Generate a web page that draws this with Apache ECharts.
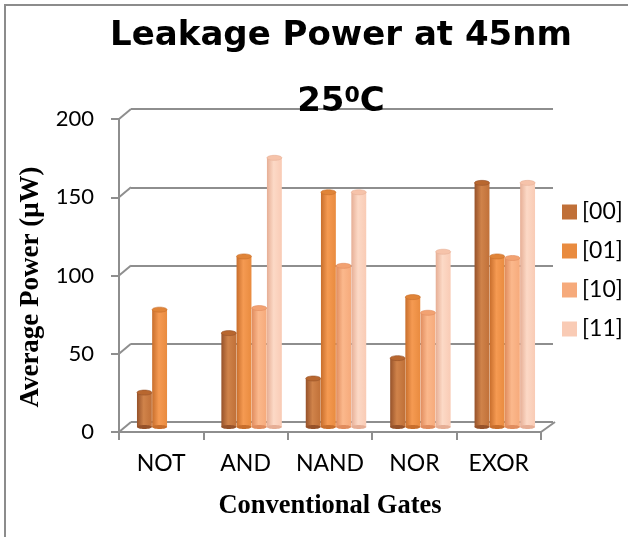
<!DOCTYPE html>
<html>
<head>
<meta charset="utf-8">
<script src="https://cdn.jsdelivr.net/npm/echarts@6/dist/echarts.min.js"></script>
<style>
html,body{margin:0;padding:0;background:#fff;}
#chart{width:628px;height:537px;}
</style>
</head>
<body>
<div id="chart"></div>
<script>
// ---- data ----
const categories = ['NOT', 'AND', 'NAND', 'NOR', 'EXOR'];
const seriesNames = ['[00]', '[01]', '[10]', '[11]'];
const s00 = [22, 60, 31, 44, 156];
const s01 = [75, 109, 150, 83, 109];
const s10 = [null, 76, 103, 73, 108];
const s11 = [null, 172, 150, 112, 156];
const yTicks = [0, 50, 100, 150, 200];
const titleLine1 = 'Leakage Power at 45nm';
const xTitle = 'Conventional Gates';
const yTitle = 'Average Power (\u03bcW)';

// ---- styles ----
const palettes = [
  { solid: '#c07038', dark: '#96522a', light: '#d0834a', top: '#b8672f' },
  { solid: '#e98b3f', dark: '#c86e2c', light: '#f59a52', top: '#e08438' },
  { solid: '#f6aa7b', dark: '#e08c5e', light: '#fbb88c', top: '#f2a272' },
  { solid: '#f9cbb5', dark: '#e6ae95', light: '#fcd9c6', top: '#f6c3aa' }
];
const gridColor = '#8e8e8e';
const DX = 12, DY = 10; // perspective offset of back wall

const allSeries = [s00, s01, s10, s11];

function barRender(idx) {
  return function (params, api) {
    const v = api.value(1);
    if (v == null || isNaN(v)) return;
    const cat = api.value(0);
    const top = api.coord([cat, v]);
    const base = api.coord([cat, 0]);
    const band = api.size([1, 0])[0];
    const w = band * 0.18;
    const cx = top[0] + (idx - 1.5) * w;
    const bw = w - 0.3;
    const p = palettes[idx];
    const grad = new echarts.graphic.LinearGradient(0, 0, 1, 0, [
      { offset: 0, color: p.dark },
      { offset: 0.45, color: p.light },
      { offset: 1, color: p.solid }
    ]);
    return {
      type: 'group',
      children: [
        { type: 'rect', shape: { x: cx - bw / 2, y: top[1], width: bw, height: base[1] - top[1] },
          style: { fill: grad } },
        { type: 'ellipse', shape: { cx: cx, cy: base[1], rx: bw / 2, ry: 2 }, style: { fill: p.dark } },
        { type: 'ellipse', shape: { cx: cx, cy: top[1], rx: bw / 2, ry: 2.5 },
          style: { fill: p.top, stroke: p.dark, lineWidth: 0.6 } }
      ]
    };
  };
}

const barSeries = allSeries.map((arr, idx) => ({
  name: seriesNames[idx],
  type: 'custom',
  xAxisIndex: 2, yAxisIndex: 2,
  itemStyle: { color: palettes[idx].solid },
  data: arr.map((v, i) => [i, v]).filter(d => d[1] != null),
  encode: { x: 0, y: 1 },
  renderItem: barRender(idx),
  z: 5
}));

const diagSeries = {
  type: 'custom',
  name: 'diag',
  silent: true,
  xAxisIndex: 0, yAxisIndex: 0,
  data: yTicks.map(v => [0, v]),
  encode: { x: 0, y: 1 },
  renderItem: function (params, api) {
    const cs = params.coordSys;
    const v = api.value(1);
    const p = api.coord([0, v]);
    const st = { stroke: gridColor, lineWidth: 2 };
    const children = [
      { type: 'line', shape: { x1: cs.x, y1: p[1], x2: cs.x + DX, y2: p[1] - DY }, style: st }
    ];
    if (v === 0) {
      children.push({ type: 'line', shape: { x1: cs.x + cs.width, y1: p[1], x2: cs.x + cs.width + DX + 2, y2: p[1] - DY }, style: st });
    }
    return { type: 'group', children: children };
  },
  z: 3
};

const FRONT = { left: 119, top: 119, width: 422, height: 313 };
const chart = echarts.init(document.getElementById('chart'));
chart.setOption({
  animation: false,
  backgroundColor: '#fff',
  title: {
    text: titleLine1 + '\n25{sup|0}C',
    left: 336,
    top: 0,
    padding: [3, 5, 5, 5],
    textAlign: 'center',
    textStyle: {
      fontFamily: 'DejaVu Sans',
      fontWeight: 'bold',
      fontSize: 34,
      lineHeight: 66,
      color: '#000',
      rich: {
        sup: { fontFamily: 'DejaVu Sans', fontWeight: 'bold', fontSize: 22, color: '#000', padding: [0, 0, 12, 0] }
      }
    }
  },
  legend: {
    data: seriesNames,
    orient: 'vertical',
    left: 557,
    top: 195,
    icon: 'rect',
    itemWidth: 15,
    itemHeight: 15,
    itemGap: 15,
    textStyle: { fontFamily: 'Lato', fontSize: 23, color: '#000', lineHeight: 24 }
  },
  graphic: [
    { type: 'rect', shape: { x: 5, y: 5, width: 700, height: 600 },
      style: { fill: 'none', stroke: '#8c8c8c', lineWidth: 2 }, silent: true },
    { type: 'text', x: 31, y: 287, rotation: Math.PI / 2,
      style: { text: yTitle, align: 'center', verticalAlign: 'middle',
        font: 'bold 27px "Liberation Serif"', fill: '#000' }, silent: true }
  ],
  grid: [
    Object.assign({}, FRONT),
    { left: FRONT.left + DX, top: FRONT.top - DY, width: FRONT.width, height: FRONT.height },
    { left: FRONT.left + DX / 2, top: FRONT.top - DY / 2, width: FRONT.width, height: FRONT.height }
  ],
  xAxis: [
    {
      gridIndex: 0, type: 'category', data: categories,
      axisLine: { lineStyle: { color: gridColor, width: 2 } },
      axisTick: { show: true, length: 8, lineStyle: { color: gridColor, width: 2 } },
      axisLabel: { fontFamily: 'Lato', fontSize: 23, color: '#000', margin: 20, interval: 0 },
      name: xTitle,
      nameLocation: 'middle',
      nameGap: 61,
      nameTextStyle: { fontFamily: 'Liberation Serif', fontWeight: 'bold', fontSize: 26.5, color: '#000' }
    },
    { gridIndex: 1, type: 'category', data: categories, show: false },
    { gridIndex: 2, type: 'category', data: categories, show: false }
  ],
  yAxis: [
    {
      gridIndex: 0, type: 'value', min: 0, max: 200, interval: 50,
      axisLine: { show: true, lineStyle: { color: gridColor, width: 2 } },
      axisTick: { show: true, length: 8, lineStyle: { color: gridColor, width: 2 } },
      splitLine: { show: false },
      axisLabel: { fontFamily: 'Lato', fontSize: 22, color: '#000', margin: 25 }
    },
    {
      gridIndex: 1, type: 'value', min: 0, max: 200, interval: 50,
      axisLine: { show: false }, axisTick: { show: false }, axisLabel: { show: false },
      splitLine: { show: true, lineStyle: { color: gridColor, width: 2 } }
    },
    {
      gridIndex: 2, type: 'value', min: 0, max: 200, interval: 50, show: false,
      splitLine: { show: false }
    }
  ],
  series: barSeries.concat([diagSeries])
});
</script>
</body>
</html>
